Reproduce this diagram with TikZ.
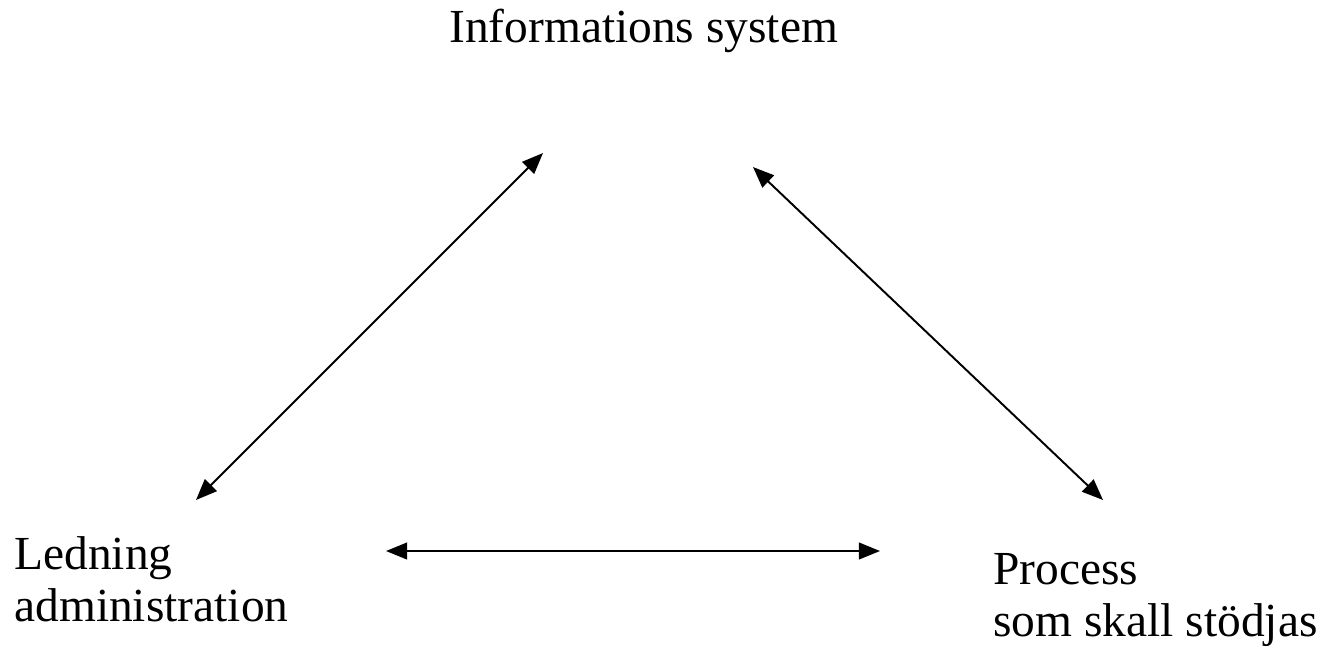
\documentclass[tikz,border=0pt]{standalone}
\usepackage{fontspec}
\setmainfont{Liberation Serif}
\usetikzlibrary{arrows.meta}
\begin{document}
\begin{tikzpicture}[x=0.02cm, y=-0.02cm, line join=round, >={Triangle[length=12pt,width=9.5pt]},
  lbl/.style={inner sep=0pt, align=left, font=\fontsize{27}{29.5}\selectfont},
  link/.style={<->, line width=1.1pt}]
 \useasboundingbox (0,0) rectangle (1326,653);
 % labels
 \node[lbl, anchor=base west] (info) at (449,42) {Informations system};
 \node[lbl, anchor=base west] (led) at (14,621) {Ledning\\administration};
 \node[lbl, anchor=base west] (proc) at (993,636) {Process\\som skall stödjas};
 % arrow ends
 \coordinate (ia) at (543,153);
 \coordinate (ib) at (753,167);
 \coordinate (la) at (196,500);
 \coordinate (lb) at (386,551);
 \coordinate (pa) at (1103,500);
 \coordinate (pb) at (880,551);
 \draw[link] (la) -- (ia);
 \draw[link] (ib) -- (pa);
 \draw[link] (lb) -- (pb);
\end{tikzpicture}
\end{document}
